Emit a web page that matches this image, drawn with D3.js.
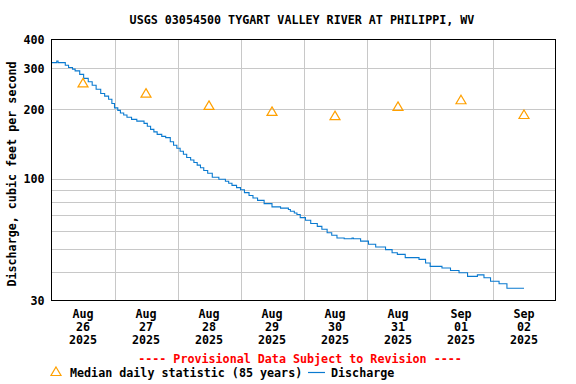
<!DOCTYPE html>
<html><head><meta charset="utf-8">
<script src="https://cdn.jsdelivr.net/npm/d3@7"></script>
<style>
html,body{margin:0;padding:0;background:#fff;}
svg{display:block;}
text{font-family:"DejaVu Sans Mono",monospace;font-weight:bold;font-size:11.7px;fill:#000;}
</style></head><body>
<svg id="chart" width="576" height="384"></svg>
<script>
const title = "USGS 03054500 TYGART VALLEY RIVER AT PHILIPPI, WV";
const yLabel = "Discharge, cubic feet per second";
const provisional = "---- Provisional Data Subject to Revision ----";
const legendMedian = "Median daily statistic (85 years)";
const legendDischarge = "Discharge";

const medianDates = ["2025-08-26T12:00","2025-08-27T12:00","2025-08-28T12:00","2025-08-29T12:00","2025-08-30T12:00","2025-08-31T12:00","2025-09-01T12:00","2025-09-02T12:00"];
const medianValues = [260, 235, 208, 196, 188, 206, 220, 190];

const dischargeTimes = [
"2025-08-26T00:00","2025-08-26T02:00","2025-08-26T02:30","2025-08-26T05:15","2025-08-26T06:30","2025-08-26T08:00","2025-08-26T09:00","2025-08-26T10:45","2025-08-26T12:15","2025-08-26T14:00","2025-08-26T15:30","2025-08-26T17:00","2025-08-26T18:45","2025-08-26T20:15","2025-08-26T21:45","2025-08-26T23:00",
"2025-08-27T00:00","2025-08-27T01:15","2025-08-27T02:15","2025-08-27T03:30","2025-08-27T04:45","2025-08-27T06:30","2025-08-27T08:30","2025-08-27T11:15","2025-08-27T12:30","2025-08-27T13:45","2025-08-27T15:00","2025-08-27T16:15","2025-08-27T18:00","2025-08-27T19:30","2025-08-27T21:15","2025-08-27T22:30","2025-08-27T23:45",
"2025-08-28T01:00","2025-08-28T02:15","2025-08-28T03:30","2025-08-28T05:00","2025-08-28T06:15","2025-08-28T07:30","2025-08-28T08:45","2025-08-28T10:00","2025-08-28T11:30","2025-08-28T13:15","2025-08-28T15:45","2025-08-28T18:15","2025-08-28T19:30","2025-08-28T20:45","2025-08-28T22:30",
"2025-08-29T00:00","2025-08-29T01:30","2025-08-29T03:15","2025-08-29T04:45","2025-08-29T06:30","2025-08-29T09:00","2025-08-29T12:00","2025-08-29T15:15","2025-08-29T18:15","2025-08-29T19:00","2025-08-29T20:30","2025-08-29T21:30","2025-08-29T22:45",
"2025-08-30T00:45","2025-08-30T02:45","2025-08-30T05:15","2025-08-30T07:00","2025-08-30T09:00","2025-08-30T10:45","2025-08-30T12:45","2025-08-30T15:30","2025-08-30T18:30","2025-08-30T19:00","2025-08-30T21:45",
"2025-08-31T00:45","2025-08-31T03:30","2025-08-31T07:15","2025-08-31T09:45","2025-08-31T11:45","2025-08-31T14:45","2025-08-31T20:00","2025-08-31T22:30",
"2025-09-01T00:15","2025-09-01T04:45","2025-09-01T08:00","2025-09-01T11:15","2025-09-01T14:30","2025-09-01T18:15","2025-09-01T20:45","2025-09-01T23:15",
"2025-09-02T02:30","2025-09-02T05:30","2025-09-02T12:00"];
const dischargeValues = [
318,323,318,310,303,298,293,283,272,263,254,244,234,228,221,212,
203,198,193,189,185,181,178,174,169,164,160,156,153,151,145,140,136,
132,128,124,121,118,115,112,109,106,102,100,98,96,94,92,
90,87.5,85,83,81,78.5,76,75,74,72.7,71.5,70.4,68.3,
66.5,64.4,62.6,60.8,58.8,57.3,55.8,55.4,55.8,55.4,54.1,
52.4,51.0,49.7,48.2,47.4,45.9,45.1,43.5,
42.1,41.4,40.4,39.5,38.1,38.7,37.6,36.3,
35.4,33.9,33.9];

const xDomain = ["2025-08-26T00:00","2025-09-03T00:00"];
const xTickDates = ["2025-08-26T12:00","2025-08-27T12:00","2025-08-28T12:00","2025-08-29T12:00","2025-08-30T12:00","2025-08-31T12:00","2025-09-01T12:00","2025-09-02T12:00"];
const xGridDates = ["2025-08-27T00:00","2025-08-28T00:00","2025-08-29T00:00","2025-08-30T00:00","2025-08-31T00:00","2025-09-01T00:00","2025-09-02T00:00"];
const xTickMonths = ["Aug","Aug","Aug","Aug","Aug","Aug","Sep","Sep"];
const xTickDays = ["26","27","28","29","30","31","01","02"];
const xTickYears = ["2025","2025","2025","2025","2025","2025","2025","2025"];
const yDomain = [30, 400];
const yTickValues = [30, 100, 200, 300, 400];
const yGridValues = [40, 50, 60, 70, 80, 90, 100, 200, 300];

const parse = d3.utcParse("%Y-%m-%dT%H:%M");
const L = 51.5, R = 555.5, T = 39.5, B = 300.5;
const svg = d3.select("#chart");
const x = d3.scaleUtc().domain(xDomain.map(parse)).range([L, R]);
const y = d3.scaleLog().domain(yDomain).range([B, T]);

// grid
const g = svg.append("g");
g.selectAll(".hg").data(yGridValues).join("line")
  .attr("x1", L).attr("x2", R)
  .attr("y1", d => Math.round(y(d)) + 0.5).attr("y2", d => Math.round(y(d)) + 0.5)
  .attr("stroke", "#c8c8c8").attr("stroke-width", 1);
g.selectAll(".vg").data(xGridDates.map(parse)).join("line")
  .attr("y1", T).attr("y2", B)
  .attr("x1", d => Math.round(x(d)) + 0.5).attr("x2", d => Math.round(x(d)) + 0.5)
  .attr("stroke", "#c8c8c8").attr("stroke-width", 1);

// discharge
const dData = dischargeTimes.map((t, i) => ({t: parse(t), v: dischargeValues[i]}));
svg.append("path").datum(dData)
  .attr("d", d3.line().x(d => x(d.t)).y(d => y(d.v)).curve(d3.curveStepAfter))
  .attr("fill", "none").attr("stroke", "#0a7ad0").attr("stroke-width", 1.1);

// median triangles
const tri = "M0,-4.5L5,4L-5,4Z";
svg.selectAll(".med").data(medianDates.map((t, i) => ({t: parse(t), v: medianValues[i]}))).join("path")
  .attr("d", tri)
  .attr("transform", d => `translate(${x(d.t)},${y(d.v)})`)
  .attr("fill", "none").attr("stroke", "#ffa000").attr("stroke-width", 1.2);

// frame
svg.append("rect").attr("x", L).attr("y", T).attr("width", R - L).attr("height", B - T)
  .attr("fill", "none").attr("stroke", "#000").attr("stroke-width", 1);

// y axis labels
const yAxis = d3.axisLeft(y).tickValues(yTickValues).tickFormat(d3.format("d")).tickSize(0).tickPadding(7);
const ya = svg.append("g").attr("transform", `translate(${L},0)`).call(yAxis);
ya.select(".domain").remove();
ya.selectAll("text").attr("font-family", null).attr("font-size", null).attr("fill", "#000");

// x axis labels
const xa = svg.append("g");
xTickDates.forEach((t, i) => {
  const xx = x(parse(t));
  const tx = xa.append("text").attr("x", xx).attr("text-anchor", "middle");
  tx.append("tspan").attr("x", xx).attr("y", 318).text(xTickMonths[i]);
  tx.append("tspan").attr("x", xx).attr("y", 331).text(xTickDays[i]);
  tx.append("tspan").attr("x", xx).attr("y", 344).text(xTickYears[i]);
});

// title
svg.append("text").attr("x", 302).attr("y", 24).attr("text-anchor", "middle").text(title);
// y label
svg.append("text").attr("transform", "translate(16,174) rotate(-90)").attr("text-anchor", "middle").text(yLabel);
// provisional
svg.append("text").attr("x", 300).attr("y", 363).attr("text-anchor", "middle").style("fill", "#ff0000").text(provisional);
// legend
svg.append("path").attr("d", tri).attr("transform", "translate(56,371.5)")
  .attr("fill", "none").attr("stroke", "#ffa000").attr("stroke-width", 1.2);
svg.append("text").attr("x", 70).attr("y", 377).text(legendMedian);
svg.append("line").attr("x1", 308).attr("x2", 325).attr("y1", 372.5).attr("y2", 372.5)
  .attr("stroke", "#0a7ad0").attr("stroke-width", 1.2);
svg.append("text").attr("x", 331).attr("y", 377).text(legendDischarge);
</script>
</body></html>
